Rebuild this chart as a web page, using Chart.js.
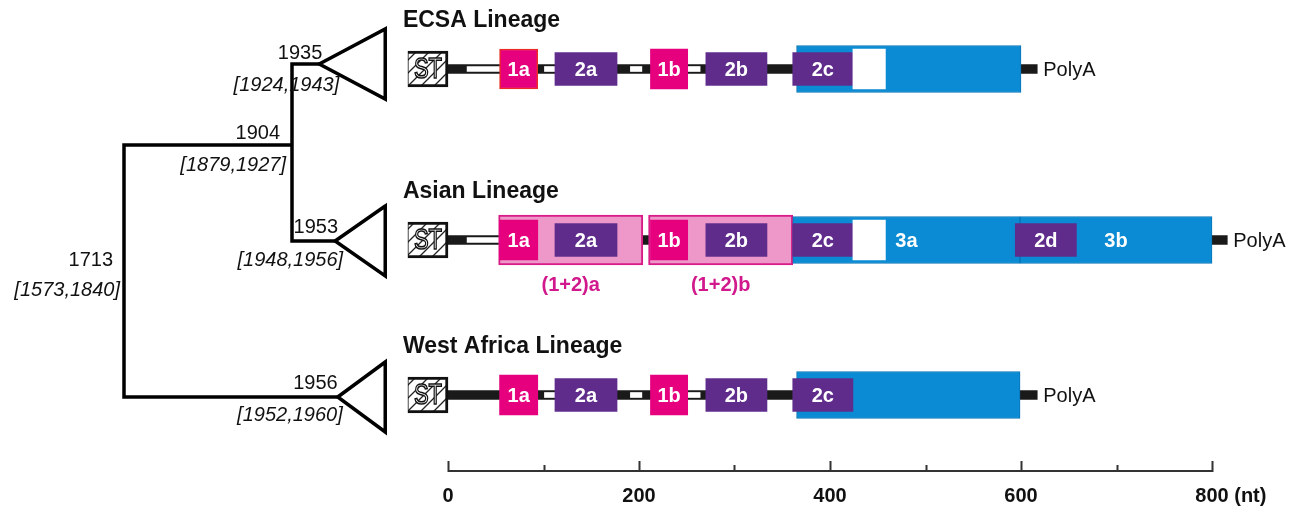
<!DOCTYPE html>
<html>
<head>
<meta charset="utf-8">
<script src="https://cdn.jsdelivr.net/npm/chart.js@4.4.1/dist/chart.umd.min.js"></script>
<style>
  html, body { margin: 0; padding: 0; background: #fff; overflow: hidden; }
  canvas { display: block; }
</style>
</head>
<body>
<canvas id="map" width="1303" height="509"></canvas>
<script>
// ---------- genome maps, positions in nucleotides ----------
const lineages = ['ECSA Lineage', 'Asian Lineage', 'West Africa Lineage'];
const stBox = [-42, 0];
const backboneEnd = [617, 816, 617];
const openGaps = [
  [[20, 54], [101, 112], [191, 203], [250, 264]],
  [[20, 54]],
  [[101, 112], [191, 203], [250, 264]]
];
const repeat1Names = ['1a', '1b'];
const repeat1Spans = [[54, 94], [212, 251]];
const repeat2Names = ['2a', '2b', '2c'];
const repeat2Spans = [[112, 177], [270, 334], [361, 424]];
const asianExtraNames = ['2d'];
const asianExtraSpans = [[594, 658]];
const blockNames = ['(1+2)a', '(1+2)b'];
const blockSpans = [[53, 204], [210, 361]];
const region3Names = [[''], ['3a', '3b'], ['']];
const region3Spans = [[[365, 600]], [[361, 599], [599, 800]], [[365, 599]]];
const deletionSpans = [[424, 458], [424, 458], null];

// ruler
const rulerTicks = [0, 100, 200, 300, 400, 500, 600, 700, 800];
const rulerLabels = ['0', '', '200', '', '400', '', '600', '', '800'];
const rulerUnit = '(nt)';

// ---------- dated tree ----------
const treeNodes = ['root', 'inner', 'ECSA', 'Asian', 'WA'];
const treeYears = [1713, 1904, 1935, 1953, 1956];
const treeHPD = [[1573, 1840], [1879, 1927], [1924, 1943], [1948, 1956], [1952, 1960]];
const tipYear = 2010;

// ---------- layout ----------
const ROW_Y = [69, 240, 395];               // centre line of each genome map
const NODE_Y = [271, 145, 64, 241, 397];     // vertical place of each tree node
const TRI_HALF = 35;
// label offsets [dxYear, dyYear, dxHPD, dyHPD] from each node
const NODE_LABEL_OFF = [[-11, -11, -4, 19], [-12, -12, -6, 20], [3, -11, 20, 21], [3, -14, 8, 19], [0, -14, 5, 18]];

const NT_PX0 = 448, NT_PX = 0.955;            // nt axis: pixel of 0 nt, pixels per nt
const TREE_PX0 = 124, TREE_PX = 0.8796;       // tree axis: pixel of root, pixels per year
const W = 1303, H = 509;

const FONT = "'Liberation Sans', Arial, Helvetica, sans-serif";
const C = {
  magenta: '#e6007e', purple: '#5f2c8c', blue: '#0b8bd3', blueEdge: '#0a74b6',
  pink: '#ee98c9', pinkEdge: '#d81b87', pinkText: '#d1188c', red: '#ee2a24', black: '#1a1a1a'
};

// hatch for the ST box
function hatch() {
  const c = document.createElement('canvas');
  c.width = 13; c.height = 13;
  const g = c.getContext('2d');
  g.fillStyle = '#fff'; g.fillRect(0, 0, 13, 13);
  g.strokeStyle = '#222'; g.lineWidth = 1.3;
  g.beginPath();
  g.moveTo(-2, 15); g.lineTo(15, -2);
  g.moveTo(-2, 2); g.lineTo(2, -2);
  g.moveTo(11, 15); g.lineTo(15, 11);
  g.stroke();
  return c.getContext('2d').createPattern(c, 'repeat');
}

function pts(row, spans, names) {
  return spans.map((s, i) => ({ x: s, y: ROW_Y[row], name: names ? names[i] : '' }));
}

const backbonePts = lineages.map((_, r) => ({ x: [0, backboneEnd[r]], y: ROW_Y[r], row: r }));
const gapPts = openGaps.flatMap((g, r) => pts(r, g));
const stPts = lineages.map((_, r) => ({ x: stBox, y: ROW_Y[r], name: 'ST' }));
const blockPts = pts(1, blockSpans, blockNames);
const bluePts = region3Spans.flatMap((s, r) => pts(r, s, region3Names[r]));
const rep1Pts = lineages.flatMap((_, r) => pts(r, repeat1Spans, repeat1Names));
const rep2Pts = lineages.flatMap((_, r) => pts(r, repeat2Spans, repeat2Names)).concat(pts(1, asianExtraSpans, asianExtraNames));
const delPts = deletionSpans.flatMap((s, r) => s ? pts(r, [s]) : []);

function bars(label, data, thickness, style, order, nameStyle) {
  return Object.assign({
    type: 'bar', label, data, indexAxis: 'y', grouped: false,
    xAxisID: 'x', yAxisID: 'y', barThickness: thickness,
    borderSkipped: false, borderWidth: 0, order, nameStyle
  }, style);
}

function treeLine(points) {
  return {
    type: 'line', data: points, xAxisID: 'xTree', yAxisID: 'y',
    borderColor: '#000', borderWidth: 3.5, pointRadius: 0, fill: false,
    tension: 0, borderJoinStyle: 'miter', borderCapStyle: 'butt', order: 0
  };
}

const Y = (name) => treeYears[treeNodes.indexOf(name)];
const NY = (name) => NODE_Y[treeNodes.indexOf(name)];
const treeSets = [
  treeLine([{ x: Y('inner'), y: NY('inner') }, { x: Y('root'), y: NY('inner') }, { x: Y('root'), y: NY('WA') }, { x: Y('WA'), y: NY('WA') }]),
  treeLine([{ x: Y('ECSA'), y: NY('ECSA') }, { x: Y('inner'), y: NY('ECSA') }, { x: Y('inner'), y: NY('Asian') }, { x: Y('Asian'), y: NY('Asian') }])
].concat(['ECSA', 'Asian', 'WA'].map(n => treeLine([
  { x: Y(n), y: NY(n) }, { x: tipYear, y: NY(n) - TRI_HALF }, { x: tipYear, y: NY(n) + TRI_HALF },
  { x: Y(n), y: NY(n) }, { x: tipYear, y: NY(n) - TRI_HALF }
])));

const datasets = [
  bars('backbone', backbonePts, 9, { backgroundColor: C.black }, 9),
  bars('open', gapPts, 5, { backgroundColor: '#fff' }, 8),
  bars('ST', stPts, 36, { backgroundColor: hatch(), borderColor: '#111', borderWidth: { top: 3, bottom: 3, left: 1, right: 3 } }, 7, 'st'),
  bars('blocks', blockPts, 50, { backgroundColor: C.pink, borderColor: C.pinkEdge, borderWidth: 2 }, 6, 'below'),
  bars('region3', bluePts, 47, { backgroundColor: C.blue, borderColor: C.blueEdge, borderWidth: 1 }, 5, 'inside'),
  bars('repeat1', rep1Pts, 40, {
    backgroundColor: C.magenta,
    borderColor: rep1Pts.map((p, i) => i === 0 ? C.red : C.magenta),
    borderWidth: rep1Pts.map((p, i) => i === 0 ? 1.5 : 0)
  }, 4, 'inside'),
  bars('repeat2', rep2Pts, 33, { backgroundColor: C.purple }, 3, 'inside'),
  bars('deletion', delPts, 40, { backgroundColor: '#fff' }, 2)
].concat(treeSets);

const annotate = {
  id: 'annotate',
  afterDatasetsDraw(chart) {
    const ctx = chart.ctx;
    const sx = chart.scales.x, st = chart.scales.xTree;
    ctx.save();
    ctx.textBaseline = 'middle';

    // names on the bars
    chart.data.datasets.forEach((ds, di) => {
      if (!ds.nameStyle) return;
      chart.getDatasetMeta(di).data.forEach((el, i) => {
        const p = ds.data[i];
        if (!p.name) return;
        const { x, base, y } = el.getProps(['x', 'base', 'y'], true);
        const cx = (x + base) / 2;
        if (ds.nameStyle === 'inside') {
          ctx.fillStyle = '#fff';
          ctx.font = 'bold 20px ' + FONT;
          ctx.textAlign = 'center';
          ctx.fillText(p.name, cx, y + 1);
        } else if (ds.nameStyle === 'below') {
          ctx.fillStyle = C.pinkText;
          ctx.font = 'bold 20px ' + FONT;
          ctx.textAlign = 'center';
          ctx.fillText(p.name, cx, y + 45);
        } else if (ds.nameStyle === 'st') {
          ctx.save();
          ctx.translate(cx, y + 1);
          ctx.scale(1, 1.3);
          ctx.font = '22px ' + FONT;
          ctx.textAlign = 'center';
          ctx.lineWidth = 1.2;
          ctx.fillStyle = '#fff';
          ctx.strokeStyle = '#111';
          ctx.fillText(p.name, 0, 0);
          ctx.strokeText(p.name, 0, 0);
          ctx.restore();
        }
      });
    });

    // lineage titles and PolyA tails
    lineages.forEach((name, r) => {
      ctx.fillStyle = '#111';
      ctx.textAlign = 'left';
      ctx.font = 'bold 23px ' + FONT;
      ctx.fillText(name, sx.getPixelForValue(stBox[0]) - 5, ROW_Y[r] - 48);
      ctx.font = '20px ' + FONT;
      ctx.fillText('PolyA', sx.getPixelForValue(backboneEnd[r]) + 6, ROW_Y[r] + 1);
    });

    // ruler
    const ry = 471;
    ctx.strokeStyle = '#333';
    ctx.lineWidth = 2;
    ctx.beginPath();
    ctx.moveTo(sx.getPixelForValue(rulerTicks[0]), ry);
    ctx.lineTo(sx.getPixelForValue(rulerTicks[rulerTicks.length - 1]), ry);
    rulerTicks.forEach((t, i) => {
      const tx = Math.round(sx.getPixelForValue(t)) + 0.5;
      ctx.moveTo(tx, ry + 1);
      ctx.lineTo(tx, ry - (rulerLabels[i] ? 10 : 6));
    });
    ctx.stroke();
    ctx.fillStyle = '#111';
    ctx.font = 'bold 20px ' + FONT;
    ctx.textAlign = 'center';
    rulerTicks.forEach((t, i) => {
      if (!rulerLabels[i]) return;
      const tx = sx.getPixelForValue(t);
      ctx.fillText(rulerLabels[i], tx, 496);
      if (i === rulerTicks.length - 1) {
        const w = ctx.measureText(rulerLabels[i]).width;
        ctx.textAlign = 'left';
        ctx.fillText(' ' + rulerUnit, tx + w / 2, 496);
        ctx.textAlign = 'center';
      }
    });

    // node dates and their intervals
    ctx.textAlign = 'right';
    ctx.fillStyle = '#111';
    treeNodes.forEach((n, i) => {
      const nx = st.getPixelForValue(treeYears[i]);
      const o = NODE_LABEL_OFF[i];
      ctx.font = '20px ' + FONT;
      ctx.fillText(String(treeYears[i]), nx + o[0], NODE_Y[i] + o[1]);
      ctx.font = 'italic 20px ' + FONT;
      ctx.fillText('[' + treeHPD[i][0] + ',' + treeHPD[i][1] + ']', nx + o[2], NODE_Y[i] + o[3]);
    });
    ctx.restore();
  }
};

new Chart(document.getElementById('map'), {
  type: 'bar',
  data: { datasets },
  plugins: [annotate],
  options: {
    responsive: false,
    animation: false,
    devicePixelRatio: 1,
    events: [],
    layout: { padding: 0 },
    plugins: { legend: { display: false }, tooltip: { enabled: false } },
    scales: {
      x: { type: 'linear', axis: 'x', display: false, bounds: 'data', offset: false, grace: 0,
           min: -NT_PX0 / NT_PX, max: (W - NT_PX0) / NT_PX },
      xTree: { type: 'linear', axis: 'x', display: false, bounds: 'data', offset: false, grace: 0,
               min: treeYears[0] - TREE_PX0 / TREE_PX, max: treeYears[0] + (W - TREE_PX0) / TREE_PX },
      y: { type: 'linear', axis: 'y', display: false, bounds: 'data', offset: false, grace: 0,
           reverse: true, min: 0, max: H }
    }
  }
});
</script>
</body>
</html>
